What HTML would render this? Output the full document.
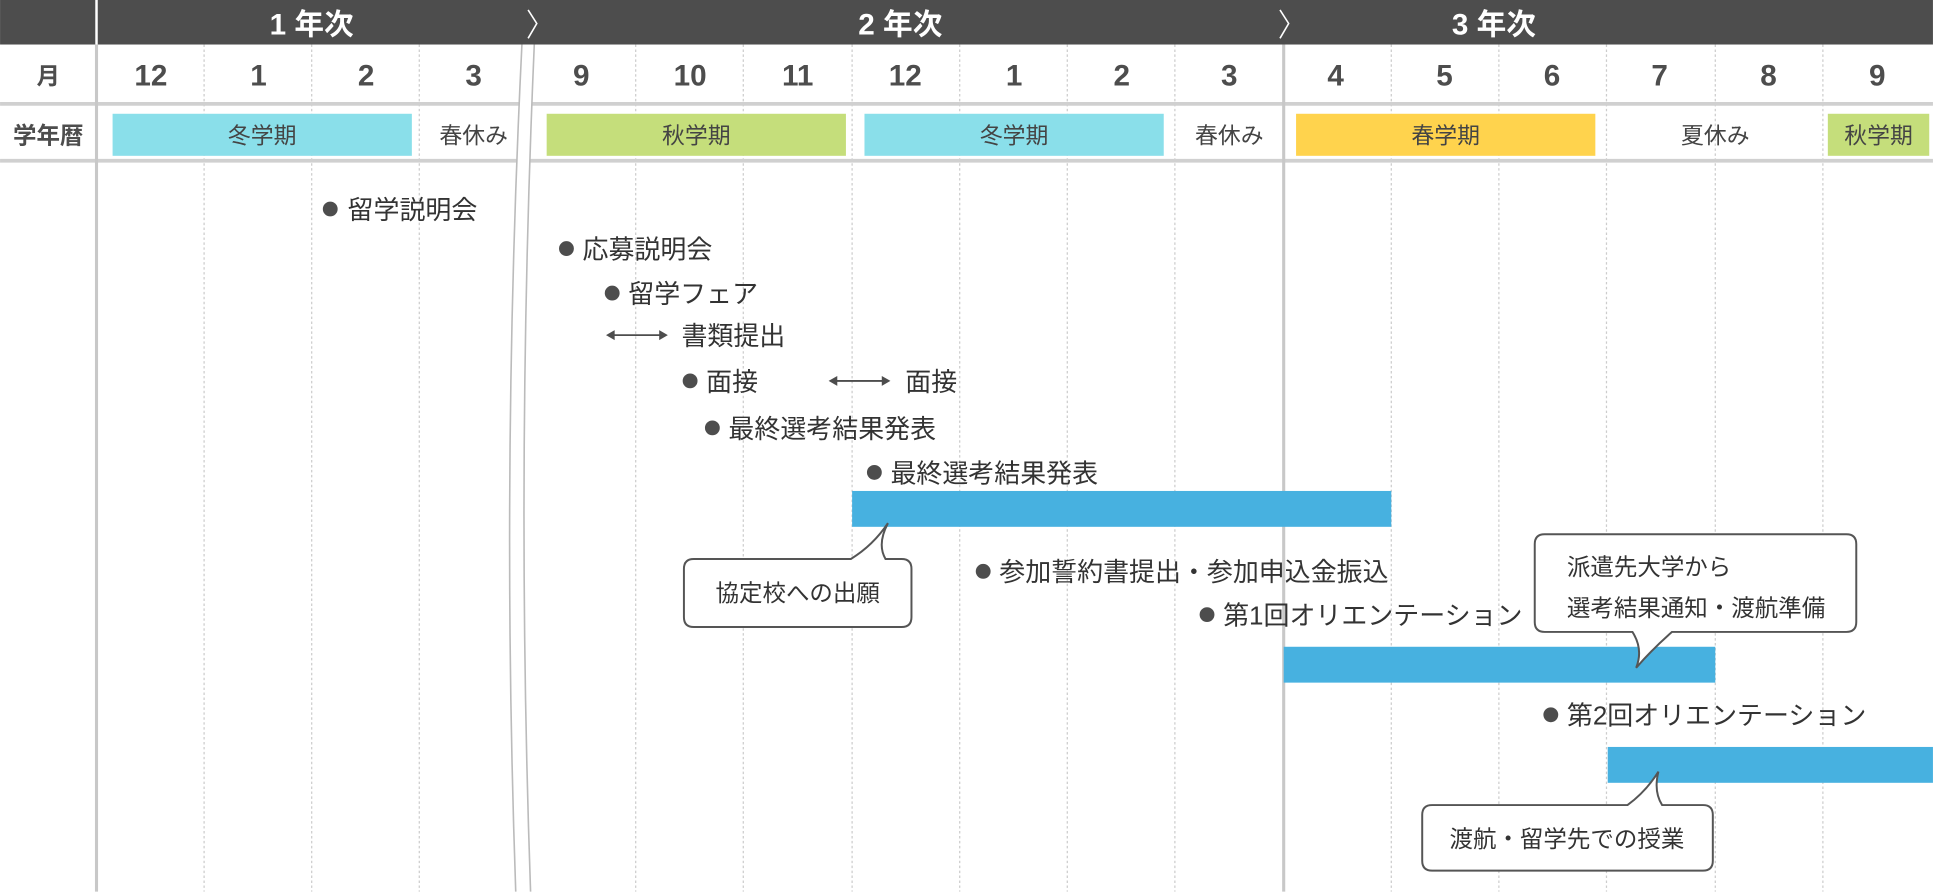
<!DOCTYPE html>
<html><head><meta charset="utf-8"><style>
html,body{margin:0;padding:0;background:#fff;width:1933px;height:892px;overflow:hidden}
svg{display:block}
text{font-family:"Liberation Sans","Noto Sans CJK JP",sans-serif}
</style></head><body>
<svg width="1933" height="892" viewBox="0 0 1563 721.3" xmlns="http://www.w3.org/2000/svg">
<rect x="0" y="0" width="1563" height="36" fill="#4d4d4d"/>
<line x1="78" y1="0" x2="78" y2="36" stroke="#fff" stroke-width="2"/>
<g fill="#fff" font-weight="bold" font-size="24" text-anchor="middle">
<text x="252" y="28">1 年次</text><text x="728" y="28">2 年次</text><text x="1208" y="28">3 年次</text></g>
<g fill="none" stroke="#fff" stroke-width="1.3">
<path d="M427,8 L434,19 L427,31"/><path d="M1035,8 L1042,19 L1035,31"/></g>
<g stroke="#ccc" stroke-width="1" stroke-dasharray="2,2">
<line x1="165" y1="36" x2="165" y2="721"/><line x1="252" y1="36" x2="252" y2="721"/><line x1="339" y1="36" x2="339" y2="721"/>
<line x1="514" y1="36" x2="514" y2="721"/><line x1="601" y1="36" x2="601" y2="721"/><line x1="689" y1="36" x2="689" y2="721"/>
<line x1="776" y1="36" x2="776" y2="721"/><line x1="863" y1="36" x2="863" y2="721"/><line x1="950" y1="36" x2="950" y2="721"/>
<line x1="1125" y1="36" x2="1125" y2="721"/><line x1="1212" y1="36" x2="1212" y2="721"/><line x1="1299" y1="36" x2="1299" y2="721"/>
<line x1="1387" y1="36" x2="1387" y2="721"/><line x1="1474" y1="36" x2="1474" y2="721"/></g>
<g stroke="#d0d0d0" stroke-width="3">
<line x1="0" y1="84" x2="1563" y2="84"/><line x1="0" y1="130" x2="1563" y2="130"/></g>
<g stroke="#c8c8c8" stroke-width="2.5">
<line x1="78" y1="36" x2="78" y2="721"/><line x1="1038" y1="36" x2="1038" y2="721"/></g>
<path d="M422,36 Q405,380 417,721 L429,721 Q417,380 432,36 Z" fill="#fff"/>
<g fill="none" stroke="#bbb" stroke-width="1.3">
<path d="M422,36 Q405,380 417,721"/><path d="M432,36 Q417,380 429,721"/></g>
<text x="39" y="68" font-size="19" font-weight="bold" fill="#4d4d4d" text-anchor="middle">月</text>
<g fill="#4d4d4d" font-size="24" font-weight="bold" text-anchor="middle">
<text x="122" y="69">12</text><text x="209" y="69">1</text><text x="296" y="69">2</text><text x="383" y="69">3</text>
<text x="470" y="69">9</text><text x="558" y="69">10</text><text x="645" y="69">11</text><text x="732" y="69">12</text>
<text x="820" y="69">1</text><text x="907" y="69">2</text><text x="994" y="69">3</text><text x="1080" y="69">4</text>
<text x="1168" y="69">5</text><text x="1255" y="69">6</text><text x="1342" y="69">7</text><text x="1430" y="69">8</text><text x="1518" y="69">9</text></g>
<text x="39" y="116" font-size="19" font-weight="bold" fill="#4d4d4d" text-anchor="middle">学年暦</text>
<rect x="91" y="92" width="242" height="34" fill="#8adfea"/>
<rect x="442" y="92" width="242" height="34" fill="#c5de7b"/>
<rect x="699" y="92" width="242" height="34" fill="#8adfea"/>
<rect x="1048" y="92" width="242" height="34" fill="#ffd34d"/>
<rect x="1478" y="92" width="82" height="34" fill="#c5de7b"/>
<g fill="#444" font-size="18.5" text-anchor="middle">
<text x="212" y="116">冬学期</text><text x="383" y="116">春休み</text><text x="563" y="116">秋学期</text>
<text x="820" y="116">冬学期</text><text x="994" y="116">春休み</text><text x="1169" y="116">春学期</text>
<text x="1387" y="116">夏休み</text><text x="1519" y="116">秋学期</text></g>
<rect x="689" y="397" width="436" height="29" fill="#47b1e0"/>
<rect x="1038" y="523" width="349" height="29" fill="#47b1e0"/>
<rect x="1300" y="604" width="263" height="29" fill="#47b1e0"/>
<g fill="#4d4d4d">
<circle cx="267" cy="169" r="6"/><circle cx="458" cy="201" r="6"/><circle cx="495" cy="237" r="6"/>
<circle cx="558" cy="308" r="6"/><circle cx="576" cy="346" r="6"/><circle cx="707" cy="382" r="6"/>
<circle cx="795" cy="462" r="6"/><circle cx="976" cy="497" r="6"/><circle cx="1254" cy="578" r="6"/></g>
<g stroke="#4d4d4d" stroke-width="1.5" fill="#4d4d4d">
<line x1="494" y1="271" x2="536" y2="271"/><path d="M490,271 L497,267 L497,275Z" stroke="none"/><path d="M540,271 L533,267 L533,275Z" stroke="none"/>
<line x1="674" y1="308" x2="716" y2="308"/><path d="M670,308 L677,304 L677,312Z" stroke="none"/><path d="M720,308 L713,304 L713,312Z" stroke="none"/></g>
<g fill="#333" font-size="21">
<text x="281" y="177">留学説明会</text><text x="471" y="209">応募説明会</text><text x="508" y="245">留学フェア</text>
<text x="551" y="279">書類提出</text><text x="571" y="316">面接</text><text x="732" y="316">面接</text>
<text x="589" y="354">最終選考結果発表</text><text x="720" y="390">最終選考結果発表</text>
<text x="808" y="470">参加誓約書提出・参加申込金振込</text><text x="989" y="505">第1回オリエンテーション</text>
<text x="1267" y="586">第2回オリエンテーション</text></g>
<g fill="#fff" stroke="#555" stroke-width="1.6">
<path d="M561,452 L688,452 Q706,441 718,423 Q709,440 716,452 L729,452 Q737,452 737,460 L737,499 Q737,507 729,507 L561,507 Q553,507 553,499 L553,460 Q553,452 561,452 Z"/>
<path d="M1249,432 L1493,432 Q1501,432 1501,440 L1501,503 Q1501,511 1493,511 L1352,511 Q1336,525 1323,540 Q1329,525 1320,511 L1249,511 Q1241,511 1241,503 L1241,440 Q1241,432 1249,432 Z"/>
<path d="M1158,651 L1316,651 Q1331,640 1341,624 Q1337,640 1344,651 L1377,651 Q1385,651 1385,659 L1385,696 Q1385,704 1377,704 L1158,704 Q1150,704 1150,696 L1150,659 Q1150,651 1158,651 Z"/></g>
<g fill="#333" font-size="19">
<text x="645" y="486" text-anchor="middle">協定校への出願</text>
<text x="1267" y="465">派遣先大学から</text><text x="1267" y="498">選考結果通知・渡航準備</text>
<text x="1267" y="685" text-anchor="middle">渡航・留学先での授業</text></g>
</svg>
</body></html>
